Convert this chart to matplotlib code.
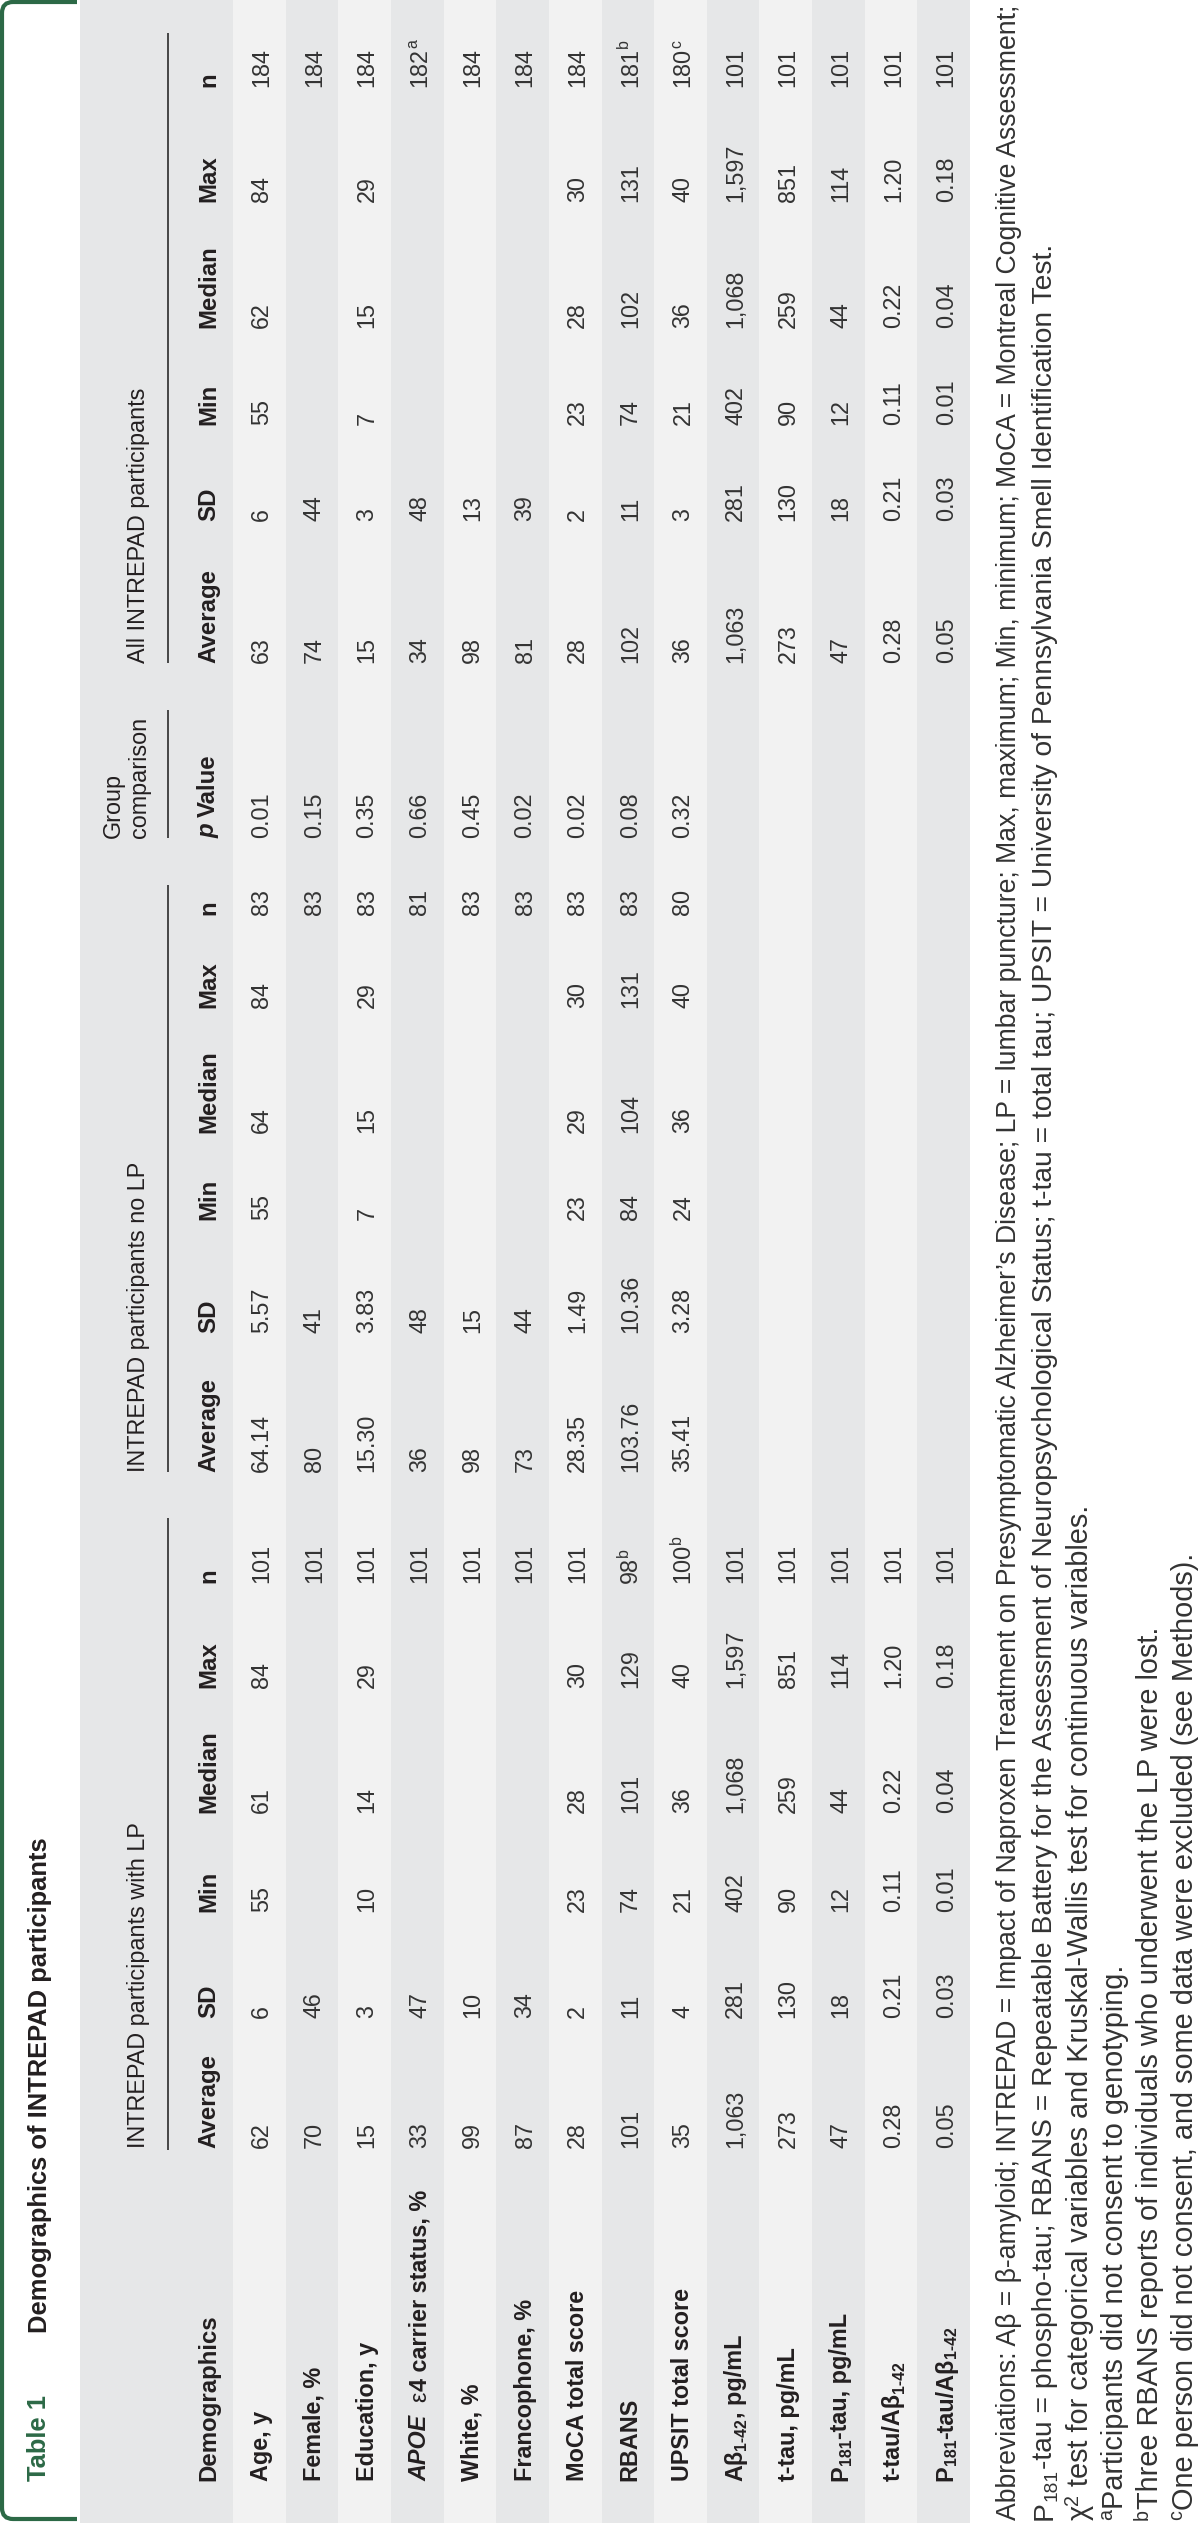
import re
import matplotlib
matplotlib.use("Agg")
import matplotlib.pyplot as plt
from matplotlib.font_manager import FontProperties
from matplotlib.path import Path
from matplotlib.patches import PathPatch, Rectangle

# ---------------- table content ----------------
table_no = "Table 1"
title = "Demographics of INTREPAD participants"

row_labels = ["Age, y", "Female, %", "Education, y", "*APOE* !{ε}4 carrier status, %", "White, %",
              "Francophone, %", "MoCA total score", "RBANS", "UPSIT total score",
              "Aβ_{1-42}, pg/mL", "t-tau, pg/mL", "P_{181}-tau, pg/mL", "t-tau/Aβ_{1-42}",
              "P_{181}-tau/Aβ_{1-42}"]
stat_headers = ["Average", "SD", "Min", "Median", "Max", "n"]
group_headers = ["INTREPAD participants with LP", "INTREPAD participants no LP",
                 "Group\ncomparison", "All INTREPAD participants"]
pval_header = "*p* Value"

lp_avg = ["62", "70", "15", "33", "99", "87", "28", "101", "35", "1,063", "273", "47", "0.28", "0.05"]
lp_sd = ["6", "46", "3", "47", "10", "34", "2", "11", "4", "281", "130", "18", "0.21", "0.03"]
lp_min = ["55", "", "10", "", "", "", "23", "74", "21", "402", "90", "12", "0.11", "0.01"]
lp_med = ["61", "", "14", "", "", "", "28", "101", "36", "1,068", "259", "44", "0.22", "0.04"]
lp_max = ["84", "", "29", "", "", "", "30", "129", "40", "1,597", "851", "114", "1.20", "0.18"]
lp_n = ["101", "101", "101", "101", "101", "101", "101", "98^{b}", "100^{b}",
        "101", "101", "101", "101", "101"]

nolp_avg = ["64.14", "80", "15.30", "36", "98", "73", "28.35", "103.76", "35.41", "", "", "", "", ""]
nolp_sd = ["5.57", "41", "3.83", "48", "15", "44", "1.49", "10.36", "3.28", "", "", "", "", ""]
nolp_min = ["55", "", "7", "", "", "", "23", "84", "24", "", "", "", "", ""]
nolp_med = ["64", "", "15", "", "", "", "29", "104", "36", "", "", "", "", ""]
nolp_max = ["84", "", "29", "", "", "", "30", "131", "40", "", "", "", "", ""]
nolp_n = ["83", "83", "83", "81", "83", "83", "83", "83", "80", "", "", "", "", ""]

p_values = ["0.01", "0.15", "0.35", "0.66", "0.45", "0.02", "0.02", "0.08", "0.32", "", "", "", "", ""]

all_avg = ["63", "74", "15", "34", "98", "81", "28", "102", "36", "1,063", "273", "47", "0.28", "0.05"]
all_sd = ["6", "44", "3", "48", "13", "39", "2", "11", "3", "281", "130", "18", "0.21", "0.03"]
all_min = ["55", "", "7", "", "", "", "23", "74", "21", "402", "90", "12", "0.11", "0.01"]
all_med = ["62", "", "15", "", "", "", "28", "102", "36", "1,068", "259", "44", "0.22", "0.04"]
all_max = ["84", "", "29", "", "", "", "30", "131", "40", "1,597", "851", "114", "1.20", "0.18"]
all_n = ["184", "184", "184", "182^{a}", "184", "184", "184", "181^{b}", "180^{c}",
         "101", "101", "101", "101", "101"]

footnotes = [
    "Abbreviations: Aβ = β-amyloid; INTREPAD = Impact of Naproxen Treatment on Presymptomatic "
    "Alzheimer’s Disease; LP = lumbar puncture; Max, maximum; Min, minimum; MoCA = Montreal "
    "Cognitive Assessment;",
    "P_{181}-tau = phospho-tau; RBANS = Repeatable Battery for the Assessment of Neuropsychological "
    "Status; t-tau = total tau; UPSIT = University of Pennsylvania Smell Identification Test.",
    "χ^{2} test for categorical variables and Kruskal-Wallis test for continuous variables.",
    "^{a}Participants did not consent to genotyping.",
    "^{b}Three RBANS reports of individuals who underwent the LP were lost.",
    "^{c}One person did not consent, and some data were excluded (see Methods).",
]

# ---------------- layout (image pixels, table is rotated 90 deg) ----------------
W, H = 1200, 2523
FAMILY = "Liberation Sans"
GREEN = "#2c6946"
DARK_BG = "#e6e7e8"
LIGHT_BG = "#f2f2f2"
INK = "#231f20"
VAL_INK = "#333333"

label_y = 2481
group_cols = [[2148, 2018, 1912, 1813, 1688, 1583],
              [1472, 1333, 1220, 1133, 1008, 915],
              [838],
              [663, 521, 425, 328, 202, 87]]
rules = [(2150, 1518), (1472, 885), (838, 710), (663, 33)]
table_x0, head_x1, table_x1 = 80, 233, 970
row_h = (table_x1 - head_x1) / len(row_labels)

fig = plt.figure(figsize=(W / 100, H / 100), dpi=100)
ax = fig.add_axes([0, 0, 1, 1])
ax.set_xlim(0, W)
ax.set_ylim(H, 0)
ax.axis("off")
renderer = fig.canvas.get_renderer()

TOKEN = re.compile(r"(_\{[^}]*\}|\^\{[^}]*\}|\*[^*]+\*|!\{[^}]*\})")


def parse(s):
    parts = []
    for tok in TOKEN.split(s):
        if not tok:
            continue
        if tok.startswith("_{"):
            parts.append((tok[2:-1], "sub"))
        elif tok.startswith("^{"):
            parts.append((tok[2:-1], "sup"))
        elif tok.startswith("!{"):
            parts.append((tok[2:-1], "reg"))
        elif tok.startswith("*") and tok.endswith("*"):
            parts.append((tok[1:-1], "it"))
        else:
            parts.append((tok, "norm"))
    return parts


def fprop(kind, size, weight):
    sz = size * 0.68 if kind in ("sub", "sup") else size
    wt = "normal" if kind == "reg" else weight
    st = "italic" if kind == "it" else "normal"
    return FontProperties(family=FAMILY, size=sz, weight=wt, style=st)


def width(txt, fp):
    w1 = renderer.get_text_width_height_descent("|" + txt + "|", fp, ismath=False)[0]
    w0 = renderer.get_text_width_height_descent("||", fp, ismath=False)[0]
    return w1 - w0


def layout(parts, size, weight):
    items, pos = [], 0.0
    for txt, kind in parts:
        fp = fprop(kind, size, weight)
        sp = width(" ", fp)
        lead = len(txt) - len(txt.lstrip(" "))
        trail = len(txt) - len(txt.rstrip(" "))
        core = txt.strip(" ")
        pos += lead * sp
        if core:
            items.append((core, kind, fp, pos))
            pos += width(core, fp)
        pos += trail * sp
    return items, pos


def rich(x, y, s, size, weight="normal", color=INK, fit=None):
    """Draw text reading bottom-to-top, starting at image y, baseline at image x."""
    parts = parse(s)
    items, total = layout(parts, size, weight)
    if fit is not None and total > fit:
        size = size * fit / total
        items, total = layout(parts, size, weight)
    px = size * 100 / 72
    for core, kind, fp, pos in items:
        dx = 0.0
        if kind == "sub":
            dx = 0.16 * px
        elif kind == "sup":
            dx = -0.36 * px
        ax.text(x + dx, y - pos, core, fontproperties=fp, color=color, rotation=90,
                rotation_mode="anchor", ha="left", va="baseline")


# backgrounds
ax.add_patch(Rectangle((table_x0, 0), table_x1 - table_x0, H, color=DARK_BG, lw=0))
for i in range(len(row_labels)):
    if i % 2 == 0:
        ax.add_patch(Rectangle((head_x1 + i * row_h, 0), row_h, H, color=LIGHT_BG, lw=0))

# green header frame
r = 11
verts = [(77, 2), (2 + r, 2), (2, 2), (2, 2 + r), (2, 2519 - r), (2, 2519), (2 + r, 2519), (77, 2519)]
codes = [Path.MOVETO, Path.LINETO, Path.CURVE3, Path.CURVE3, Path.LINETO,
         Path.CURVE3, Path.CURVE3, Path.LINETO]
ax.add_patch(PathPatch(Path(verts, codes), fill=False, edgecolor=GREEN, lw=3))

# title
rich(46.5, 2481, table_no, 18.4, "bold", GREEN)
rich(46.5, 2333, title, 18.4, "bold", INK)

# group headers and rules
for g, head in enumerate(group_headers):
    start = group_cols[g][0]
    lines = head.split("\n")
    if len(lines) == 2:
        rich(120, start, lines[0], 16.8, "normal", INK)
        rich(146, start, lines[1], 16.8, "normal", INK)
    else:
        rich(145, start, head, 16.8, "normal", INK)
for y0, y1 in rules:
    ax.plot([168, 168], [y0, y1], color="#2b2b2b", lw=1.2, solid_capstyle="butt")

# column headers
rich(215, label_y, "Demographics", 17.3, "bold", INK)
for g in (0, 1, 3):
    for col, head in zip(group_cols[g], stat_headers):
        rich(215, col, head, 17.3, "bold", INK)
rich(215, group_cols[2][0], pval_header, 17.3, "bold", INK)

# body
columns = [lp_avg, lp_sd, lp_min, lp_med, lp_max, lp_n,
           nolp_avg, nolp_sd, nolp_min, nolp_med, nolp_max, nolp_n,
           p_values,
           all_avg, all_sd, all_min, all_med, all_max, all_n]
col_starts = group_cols[0] + group_cols[1] + group_cols[2] + group_cols[3]
for i, label in enumerate(row_labels):
    base = head_x1 + (i + 0.5) * row_h + 9
    rich(base, label_y, label, 16.8, "bold", INK)
    for start, values in zip(col_starts, columns):
        if values[i]:
            rich(base, start, values[i], 16.8, "normal", VAL_INK)

# footnotes
fn_base = [1016.5, 1052, 1088, 1123, 1158, 1193]
fits = [2516, 2271, None, None, None, None]
for xb, note, fit in zip(fn_base, footnotes, fits):
    rich(xb, 2520, note, 20.8, "normal", VAL_INK, fit=fit)

fig.savefig("out.png", dpi=100, facecolor="white")
